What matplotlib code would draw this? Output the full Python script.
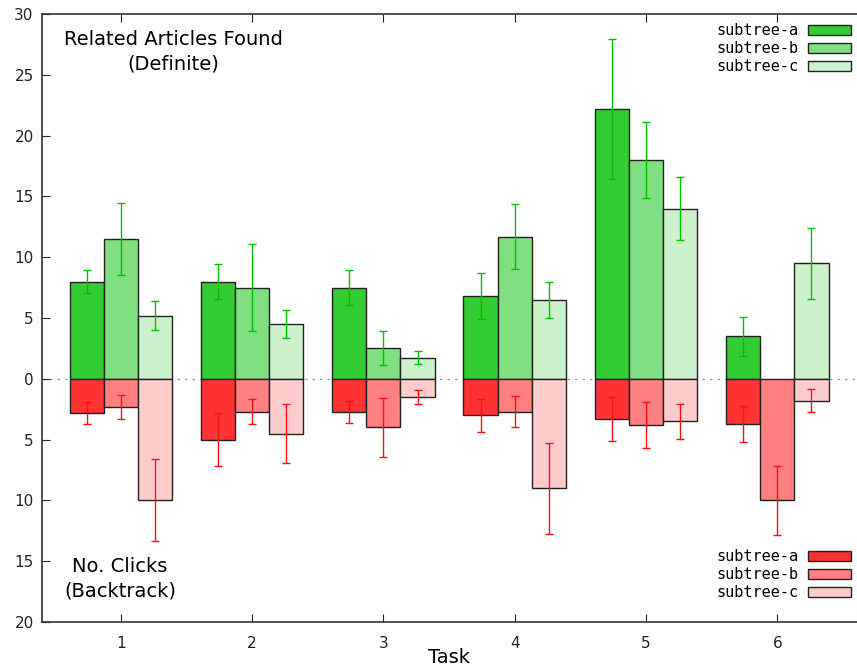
import matplotlib
matplotlib.use("Agg")
import matplotlib.pyplot as plt
import numpy as np
from matplotlib.patches import Patch

tasks = [1, 2, 3, 4, 5, 6]
series = ["subtree-a", "subtree-b", "subtree-c"]

# Related articles found (positive, green)
found_a = [8.0, 8.0, 7.5, 6.8, 22.2, 3.5]
found_b = [11.5, 7.5, 2.5, 11.7, 18.0, 0.0]
found_c = [5.2, 4.5, 1.75, 6.5, 14.0, 9.5]
found_err_a = [0.95, 1.4, 1.43, 1.9, 5.75, 1.6]
found_err_b = [2.95, 3.6, 1.4, 2.7, 3.1, 0.0]
found_err_c = [1.2, 1.15, 0.55, 1.5, 2.6, 2.9]

# No. clicks (backtrack) (negative, red)
clicks_a = [2.8, 5.0, 2.7, 3.0, 3.3, 3.7]
clicks_b = [2.3, 2.7, 4.0, 2.7, 3.8, 10.0]
clicks_c = [10.0, 4.5, 1.5, 9.0, 3.5, 1.8]
clicks_err_a = [0.9, 2.15, 0.9, 1.35, 1.78, 1.5]
clicks_err_b = [0.97, 1.0, 2.4, 1.3, 1.92, 2.85]
clicks_err_c = [3.37, 2.44, 0.6, 3.74, 1.41, 0.93]

yticks = [-20, -15, -10, -5, 0, 5, 10, 15, 20, 25, 30]

green_cols = ["#33cc33", "#80df80", "#ccf1cc"]
red_cols = ["#ff3333", "#ff8080", "#ffcccc"]
green_err = "#00c000"
red_err = "#ff1010"

fig = plt.figure(figsize=(8.57, 6.69), dpi=100)
ax = fig.add_axes([42/857, 47/669, 1 - 42/857 + 0.002, (622-14)/669])

x = np.array(tasks, dtype=float)
w = 0.26
offs = [-w, 0, w]
fvals = [found_a, found_b, found_c]
ferrs = [found_err_a, found_err_b, found_err_c]
cvals = [clicks_a, clicks_b, clicks_c]
cerrs = [clicks_err_a, clicks_err_b, clicks_err_c]

ax.axhline(0, color="#999999", lw=0.9, ls=(0, (2, 4)), zorder=0)

for i in range(3):
    fv = np.array(fvals[i]); fe = np.array(ferrs[i])
    cv = -np.array(cvals[i]); ce = np.array(cerrs[i])
    mask = fv > 0
    ax.bar(x[mask] + offs[i], fv[mask], width=w, color=green_cols[i],
           edgecolor="#222222", linewidth=1.0, zorder=2)
    ax.errorbar(x[mask] + offs[i], fv[mask], yerr=fe[mask], fmt="none",
                ecolor=green_err, elinewidth=1.0, capsize=3, capthick=1.0, zorder=3)
    ax.bar(x + offs[i], cv, width=w, color=red_cols[i],
           edgecolor="#222222", linewidth=1.0, zorder=2)
    ax.errorbar(x + offs[i], cv, yerr=ce, fmt="none",
                ecolor=red_err, elinewidth=1.0, capsize=3, capthick=1.0, zorder=3)

ax.set_xlim(0.4, 6.62)
ax.set_ylim(-20, 30)
ax.set_xticks(tasks)
ax.set_xticklabels([str(t) for t in tasks], fontsize=11)
ax.set_yticks(yticks)
ax.set_yticklabels([str(abs(v)) for v in yticks], fontsize=11)
ax.tick_params(axis="x", direction="in", top=True, bottom=True, length=6, pad=10, colors="#222222")
ax.tick_params(axis="y", direction="in", left=True, right=False, length=6, pad=6, colors="#222222")
for s in ["left", "top", "bottom"]:
    ax.spines[s].set_color("#333333")
    ax.spines[s].set_linewidth(1.2)
ax.spines["right"].set_visible(False)

ax.set_xlabel("Task", fontsize=14, labelpad=0, fontweight="medium")
ax.xaxis.set_label_coords((448-42)/815, -0.042)

fig.text(173/857, 1 - 52/669, "Related Articles Found\n(Definite)", fontsize=14,
         ha="center", va="center", linespacing=1.35, fontweight="medium")
fig.text(120/857, 1 - 579/669, "No. Clicks\n(Backtrack)", fontsize=14,
         ha="center", va="center", linespacing=1.35, fontweight="medium")

legkw = dict(frameon=False, markerfirst=False,
             prop={"family": "DejaVu Sans Mono", "size": 11},
             handlelength=2.8, handleheight=0.65, labelspacing=0.2, handletextpad=0.65,
             borderaxespad=0, borderpad=0, bbox_transform=fig.transFigure, loc="upper right")

ghandles = [Patch(facecolor=green_cols[i], edgecolor="#222222", label=series[i]) for i in range(3)]
rhandles = [Patch(facecolor=red_cols[i], edgecolor="#222222", label=series[i]) for i in range(3)]
leg1 = ax.legend(handles=ghandles, bbox_to_anchor=(851/857, 1 - 23/669), **legkw)
ax.add_artist(leg1)
ax.legend(handles=rhandles, bbox_to_anchor=(851/857, 1 - 549/669), **legkw)

fig.savefig("out.png", dpi=100)
